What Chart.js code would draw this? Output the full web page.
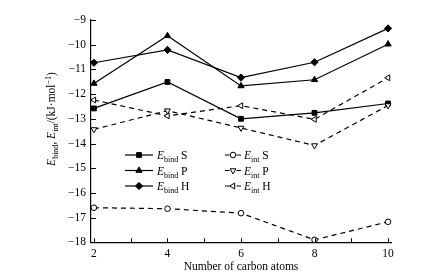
<!DOCTYPE html>
<html><head><meta charset="utf-8">
<script src="https://cdn.jsdelivr.net/npm/chart.js@4"></script>
<style>html,body{margin:0;padding:0;background:#fff;} canvas{display:block;}</style>
</head><body>
<canvas id="c" width="427" height="279"></canvas>
<script>
// ---- data ----
const carbonAtoms = [2, 4, 6, 8, 10];
const bindS = [-12.58, -11.51, -13.0, -12.76, -12.38];
const bindP = [-11.57, -9.64, -11.67, -11.42, -9.98];
const bindH = [-10.73, -10.21, -11.33, -10.71, -9.34];
const intS  = [-16.6, -16.64, -16.82, -17.9, -17.17];
const intP  = [-13.43, -12.67, -13.37, -14.08, -12.46];
const intH  = [-12.24, -12.88, -12.47, -13.02, -11.34];
const xTickValues = [2, 3, 4, 5, 6, 7, 8, 9, 10];
const xTickLabels = ['2', '', '4', '', '6', '', '8', '', '10'];
const yTickValues = [-18, -17, -16, -15, -14, -13, -12, -11, -10, -9];
const yTickLabels = ['\u221218', '\u221217', '\u221216', '\u221215', '\u221214', '\u221213', '\u221212', '\u221211', '\u221210', '\u22129'];
const seriesNames = ['S', 'P', 'H'];
const xTitle = 'Number of carbon atoms';

const FONT = "'Liberation Serif', 'Times New Roman', serif";
const pts = arr => carbonAtoms.map((x, i) => ({x: x, y: arr[i]}));

function ds(kind, idx, arr) {
  const solid = kind === 'bind';
  const styles = solid
    ? [{ps: 'rect', r: 3.4, rot: 0}, {ps: 'triangle', r: 3.6, rot: 0}, {ps: 'rectRot', r: 3.6, rot: 0}]
    : [{ps: 'circle', r: 2.8, rot: 0}, {ps: 'triangle', r: 3.4, rot: 180}, {ps: 'triangle', r: 3.4, rot: -90}];
  const s = styles[idx];
  return {
    kind: kind, name: seriesNames[idx],
    data: pts(arr),
    borderColor: '#000', borderWidth: 1.2,
    borderDash: solid ? [] : [5, 4],
    pointStyle: s.ps, pointRadius: s.r, pointRotation: s.rot,
    pointBackgroundColor: solid ? '#000' : '#fff',
    pointBorderColor: '#000', pointBorderWidth: 1,
    tension: 0, fill: false, clip: false
  };
}

const tickPlugin = {
  id: 'inwardTicks',
  afterDraw(chart) {
    const ctx = chart.ctx, xs = chart.scales.x, ys = chart.scales.y;
    ctx.save();
    ctx.strokeStyle = '#000'; ctx.lineWidth = 1;
    ctx.beginPath();
    xs.ticks.forEach(t => {
      const px = Math.round(xs.getPixelForValue(t.value)) + 0.5;
      ctx.moveTo(px, ys.bottom); ctx.lineTo(px, ys.bottom - 4);
    });
    ys.ticks.forEach(t => {
      const py = Math.round(ys.getPixelForValue(t.value)) + 0.5;
      ctx.moveTo(xs.left, py); ctx.lineTo(xs.left + 5, py);
    });
    ctx.stroke();
    ctx.restore();
  }
};

function drawRich(ctx, parts, x, y) {
  let cx = x;
  parts.forEach(p => {
    const size = p.sub || p.sup ? 8 : 11.5;
    ctx.font = (p.it ? 'italic ' : '') + size + 'px ' + FONT;
    const dy = p.sub ? 3 : (p.sup ? -4.5 : 0);
    ctx.fillText(p.t, cx, y + dy);
    cx += ctx.measureText(p.t).width;
  });
  return cx - x;
}
function richWidth(ctx, parts) {
  let w = 0;
  parts.forEach(p => {
    const size = p.sub || p.sup ? 8 : 11.5;
    ctx.font = (p.it ? 'italic ' : '') + size + 'px ' + FONT;
    w += ctx.measureText(p.t).width;
  });
  return w;
}

const yTitleParts = [
  {t: 'E', it: true}, {t: 'bind', sub: true}, {t: ', '},
  {t: 'E', it: true}, {t: 'int', sub: true}, {t: '/(kJ\u00b7mol'},
  {t: '\u22121', sup: true}, {t: ')'}
];

const textPlugin = {
  id: 'richText',
  afterDraw(chart) {
    const ctx = chart.ctx;
    ctx.save();
    ctx.fillStyle = '#000';
    ctx.textBaseline = 'alphabetic';
    ctx.textAlign = 'left';
    // y-axis title
    ctx.save();
    ctx.translate(55, 119);
    ctx.rotate(-Math.PI / 2);
    const w = richWidth(ctx, yTitleParts);
    drawRich(ctx, yTitleParts, -w / 2, 0);
    ctx.restore();
    // legend
    const rowsY = [155, 170.5, 186];
    chart.data.datasets.forEach(d => {
      const idx = seriesNames.indexOf(d.name);
      const y = rowsY[idx];
      const solid = d.kind === 'bind';
      ctx.save();
      ctx.strokeStyle = '#000'; ctx.lineWidth = 1.2;
      ctx.beginPath();
      let mx, tx;
      if (solid) {
        ctx.moveTo(125, y); ctx.lineTo(153, y); mx = 139; tx = 157;
      } else {
        ctx.moveTo(225, y); ctx.lineTo(229.5, y);
        ctx.moveTo(236.5, y); ctx.lineTo(241, y); mx = 233; tx = 244;
      }
      ctx.stroke();
      ctx.fillStyle = d.pointBackgroundColor; ctx.strokeStyle = '#000'; ctx.lineWidth = 1;
      Chart.helpers.drawPoint(ctx, {pointStyle: d.pointStyle, radius: d.pointRadius, rotation: d.pointRotation, borderWidth: 1}, mx, y);
      ctx.restore();
      ctx.fillStyle = '#000';
      drawRich(ctx, [{t: 'E', it: true}, {t: d.kind, sub: true}, {t: ' ' + d.name}], tx, y + 4);
    });
    ctx.restore();
  }
};

new Chart(document.getElementById('c'), {
  type: 'line',
  data: {
    datasets: [
      ds('int', 0, intS), ds('int', 1, intP), ds('int', 2, intH),
      ds('bind', 0, bindS), ds('bind', 1, bindP), ds('bind', 2, bindH)
    ]
  },
  options: {
    responsive: false, animation: false,
    layout: {padding: {top: 20, right: 36, left: 0, bottom: 0}},
    plugins: {legend: {display: false}, tooltip: {enabled: false}},
    scales: {
      x: {
        type: 'linear', min: 1.92, max: 10.08,
        afterBuildTicks: s => { s.ticks = xTickValues.map(v => ({value: v})); },
        afterFit: s => { s.height = 36.7; },
        ticks: {
          callback: (v) => xTickLabels[xTickValues.indexOf(v)],
          autoSkip: false, maxRotation: 0, padding: 5,
          color: '#000', font: {family: FONT, size: 11.5}
        },
        grid: {drawOnChartArea: false, drawTicks: false},
        border: {display: true, color: '#000', width: 1.2},
        title: {display: true, text: xTitle, color: '#000', font: {family: FONT, size: 11.5}, padding: {top: 0, bottom: 5}}
      },
      y: {
        type: 'linear', min: -18, max: -9,
        afterBuildTicks: s => { s.ticks = yTickValues.map(v => ({value: v})); },
        afterFit: s => { s.width = 91; },
        ticks: {
          callback: (v) => yTickLabels[yTickValues.indexOf(v)],
          autoSkip: false, padding: 5,
          color: '#000', font: {family: FONT, size: 11.5}
        },
        grid: {drawOnChartArea: false, drawTicks: false},
        border: {display: true, color: '#000', width: 1.2}
      }
    }
  },
  plugins: [tickPlugin, textPlugin]
});
</script>
</body></html>
